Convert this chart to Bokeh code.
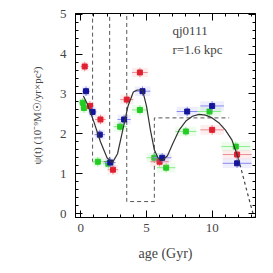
from bokeh.plotting import figure
from bokeh.models import LinearAxis, Range1d, ColumnDataSource, FixedTicker, Label, CustomLabelingPolicy
from bokeh.embed import file_html
from bokeh.resources import INLINE

# ---- data ----
red_age  = [0.3, 0.7, 1.5, 2.45, 3.5, 4.5, 6.0, 10.0, 11.9]
red_psi  = [3.69, 2.70, 2.36, 1.10, 2.86, 3.54, 1.30, 2.10, 1.48]
red_xerr = [0.3, 0.3, 0.4, 0.4, 0.5, 0.6, 0.7, 0.9, 1.1]
red_yerr = [0.12, 0.12, 0.12, 0.12, 0.12, 0.12, 0.12, 0.12, 0.12]

blue_age  = [0.4, 0.9, 1.45, 2.25, 3.3, 4.7, 6.2, 8.1, 10.0, 11.9]
blue_psi  = [3.07, 2.55, 1.98, 1.28, 2.36, 3.07, 1.40, 2.56, 2.70, 1.26]
blue_xerr = [0.3, 0.3, 0.4, 0.4, 0.5, 0.6, 0.7, 0.8, 0.9, 1.1]
blue_yerr = [0.12, 0.12, 0.12, 0.12, 0.12, 0.12, 0.12, 0.12, 0.12, 0.12]

green_age  = [0.15, 0.25, 1.3, 2.1, 3.0, 4.5, 5.6, 6.5, 8.0, 9.8, 11.8]
green_psi  = [2.78, 2.65, 1.30, 1.25, 2.18, 2.60, 1.40, 1.15, 2.06, 2.56, 1.68]
green_xerr = [0.3, 0.3, 0.4, 0.4, 0.5, 0.6, 0.6, 0.7, 0.8, 0.9, 1.1]
green_yerr = [0.12, 0.12, 0.12, 0.12, 0.12, 0.12, 0.12, 0.12, 0.12, 0.12, 0.12]

curve_age = [0.2, 0.5, 1.0, 1.5, 2.0, 2.4, 2.8, 3.2, 3.6, 4.0, 4.3, 4.7, 5.0, 5.3, 5.6,
             5.9, 6.2, 6.6, 7.0, 7.5, 8.0, 8.5, 9.0, 9.5, 10.0, 10.5, 11.0, 11.5, 12.0]
curve_psi = [2.95, 2.75, 2.30, 1.80, 1.40, 1.27, 1.50, 2.10, 2.70, 3.05, 3.10, 3.10, 2.70, 2.10, 1.60,
             1.38, 1.33, 1.45, 1.75, 2.10, 2.32, 2.44, 2.49, 2.47, 2.40, 2.28, 2.10, 1.85, 1.38]
tail_age = [12.0, 12.3, 12.6, 12.9, 13.2]
tail_psi = [1.38, 1.00, 0.62, 0.25, -0.10]

hist_edges = [0.0, 0.9, 2.2, 3.5, 5.6, 11.3]
hist_vals  = [6.0, 1.3, 6.0, 0.3, 2.4]

label_obj = "qj0111"
label_rad = "r=1.6 kpc"

# ---- figure ----
p = figure(width=265, height=265, output_backend="svg", toolbar_location=None,
           x_range=Range1d(-0.4, 13.3), y_range=Range1d(-0.1, 5.02),
           min_border_left=75, min_border_right=10, min_border_top=13, min_border_bottom=48)
p.background_fill_color = "white"
p.border_fill_color = "white"
p.outline_line_color = "black"
p.outline_line_width = 1
p.grid.visible = False

font = "Liberation Serif"
tc = "#444444"

hide_labels = CustomLabelingPolicy(code="""
const idx = [];
for (const i of indices) idx.push(i);
for (const i of idx) indices.unset(i);
return indices;
""")

def style_axis(ax, labels=True):
    ax.major_tick_in = 7
    ax.major_tick_out = 0
    ax.minor_tick_in = 3
    ax.minor_tick_out = 0
    ax.axis_line_color = "black"
    ax.major_tick_line_color = "black"
    ax.minor_tick_line_color = "black"
    ax.major_label_text_font = font
    ax.major_label_text_color = tc
    ax.axis_label_text_font = font
    ax.axis_label_text_color = tc
    ax.axis_label_text_font_style = "normal"
    if not labels:
        ax.major_label_policy = hide_labels
        ax.major_label_standoff = 0

xt = FixedTicker(ticks=[0, 5, 10], minor_ticks=list(range(0, 14)))
yt = FixedTicker(ticks=[0, 1, 2, 3, 4, 5], minor_ticks=[i * 0.2 for i in range(0, 26)])

p.xaxis.ticker = xt
p.yaxis.ticker = yt
style_axis(p.xaxis[0])
style_axis(p.yaxis[0])
p.xaxis.major_label_text_font_size = "13px"
p.yaxis.major_label_text_font_size = "13px"
p.xaxis.major_label_standoff = 6
p.yaxis.major_label_standoff = 9
p.xaxis.axis_label = "age (Gyr)"
p.xaxis.axis_label_text_font_size = "14px"
p.xaxis.axis_label_standoff = 11
p.yaxis.axis_label = "\u03c8(t) (10\u207b\u2079M\u2609/yr\u00d7pc\u00b2)"
p.yaxis.axis_label_text_font_size = "11px"
p.yaxis.axis_label_standoff = 14

top = LinearAxis(ticker=xt)
right = LinearAxis(ticker=yt)
style_axis(top, labels=False)
style_axis(right, labels=False)
p.add_layout(top, "above")
p.add_layout(right, "right")

# histogram (dashed step)
hx, hy = [], []
for i, v in enumerate(hist_vals):
    hx += [hist_edges[i], hist_edges[i + 1]]
    hy += [v, v]
p.line(hx, hy, line_color="#555555", line_dash="4 3", line_width=1)

# series
def series(age, psi, xerr, yerr, col, light):
    x0 = [a - e for a, e in zip(age, xerr)]
    x1 = [a + e for a, e in zip(age, xerr)]
    y0 = [v - e for v, e in zip(psi, yerr)]
    y1 = [v + e for v, e in zip(psi, yerr)]
    src = ColumnDataSource(dict(age=age, psi=psi, x0=x0, x1=x1, y0=y0, y1=y1))
    p.quad(left="x0", right="x1", bottom="y0", top="y1", source=src,
           fill_color=light, fill_alpha=0.15, line_color=None)
    p.segment(x0="x0", y0="psi", x1="x1", y1="psi", source=src, line_color=light, line_width=1)
    p.segment(x0="age", y0="y0", x1="age", y1="y1", source=src, line_color=light, line_width=1)
    p.scatter(x="age", y="psi", source=src, marker="square", size=5,
              fill_color=col, line_color=col)

series(green_age, green_psi, green_xerr, green_yerr, "#22cc22", "#88ee88")
series(red_age, red_psi, red_xerr, red_yerr, "#e02030", "#f08a90")
series(blue_age, blue_psi, blue_xerr, blue_yerr, "#14149a", "#8a8aee")

p.line(curve_age, curve_psi, line_color="#333333", line_width=1.2)
p.line(tail_age, tail_psi, line_color="#444444", line_width=1.2, line_dash="3 3")

p.add_layout(Label(x=97, y=187, x_units="screen", y_units="screen",
                   text=label_obj, text_font=font, text_font_size="13px",
                   text_color=tc, text_baseline="middle"))
p.add_layout(Label(x=97, y=168, x_units="screen", y_units="screen",
                   text=label_rad, text_font=font, text_font_size="13px",
                   text_color=tc, text_baseline="middle"))

open("out.html", "w").write(file_html(p, INLINE))
